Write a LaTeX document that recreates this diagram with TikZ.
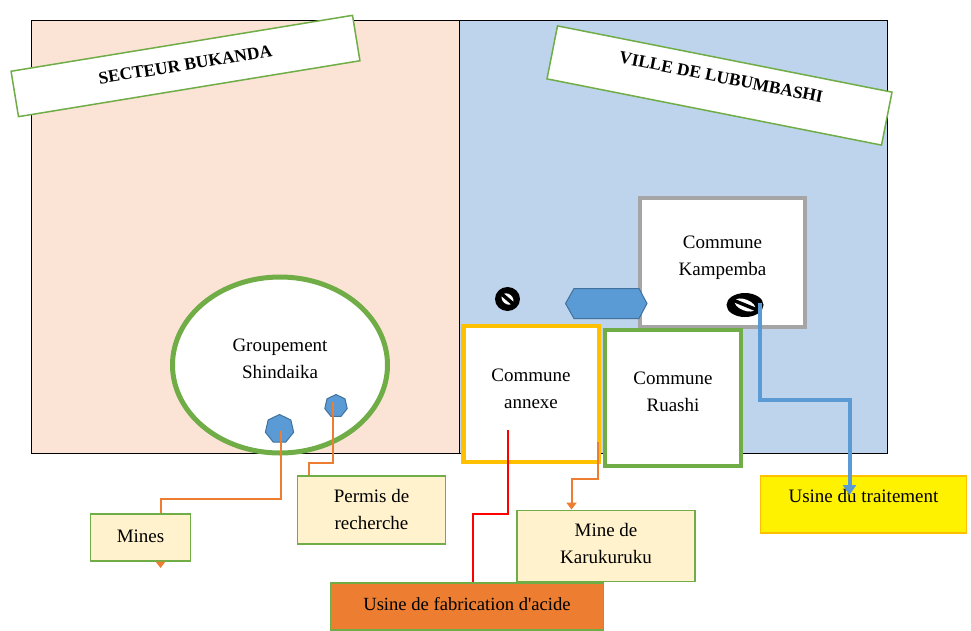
\documentclass[tikz,border=0pt]{standalone}
\usepackage{fontspec}
\setmainfont{Liberation Serif}
\usetikzlibrary{shapes.geometric,arrows.meta,calc}
\definecolor{salmon}{HTML}{FBE3D6}
\definecolor{skyb}{HTML}{BDD4EC}
\definecolor{grn}{HTML}{70AD47}
\definecolor{gry}{HTML}{A5A5A5}
\definecolor{yel}{HTML}{FFC000}
\definecolor{blu}{HTML}{5B9BD5}
\definecolor{bluedge}{HTML}{41719C}
\definecolor{org}{HTML}{ED7D31}
\definecolor{cream}{HTML}{FFF2CC}
\tikzset{
 zone/.style={draw=black,line width=1pt,minimum width=428pt,minimum height=433pt,anchor=north west},
 banner/.style={draw=grn,line width=1.5pt,fill=white,inner sep=0pt,font=\bfseries\fontsize{17.5}{20}\selectfont},
 commune/.style={fill=white,line width=4.5pt,align=center,inner sep=0pt,font=\fontsize{19}{27}\selectfont},
 tag/.style={draw=grn,line width=1.8pt,fill=cream,align=center,inner sep=0pt,font=\fontsize{19}{27}\selectfont},
 plant/.style={line width=1.6pt,inner sep=0pt,font=\fontsize{18.6}{22}\selectfont},
 site/.style={regular polygon,regular polygon sides=7,draw=bluedge,line width=1pt,fill=blu,inner sep=0pt},
 conn/.style={draw=org,line width=2pt},
 tipped/.style={-{Triangle[length=7pt,width=10pt]}},
 blackdisc/.style={ellipse,fill=black,inner sep=0pt},
 whitedisc/.style={ellipse,fill=white,inner sep=0pt},
}
\begin{document}
\begin{tikzpicture}[x=1pt,y=-1pt]
\useasboundingbox (0,0) rectangle (971,630);
\fill[white] (0,0) rectangle (971,630);
% zones
\node[zone,fill=salmon] (zl) at (31,20) {};
\node[zone,fill=skyb] (zr) at (459,20) {};
% banners
\node[banner,minimum width=346pt,minimum height=46pt,rotate=9.3,text depth=3pt] (bl) at (185.5,66) {SECTEUR BUKANDA};
\node[banner,minimum width=341pt,minimum height=54pt,rotate=-11.2,text depth=17pt] (br) at (719.5,85.5) {VILLE DE LUBUMBASHI};
% communes
\node[commune,draw=gry,minimum width=165pt,minimum height=129pt,text depth=14pt] (kamp) at (722.5,262.5) {Commune\\Kampemba};
\node[commune,draw=yel,minimum width=135.5pt,minimum height=136pt,text depth=10pt] (annexe) at (531,394) {Commune\\annexe};
\node[commune,draw=grn,minimum width=136pt,minimum height=136pt,text depth=12pt] (ruashi) at (673,398) {Commune\\Ruashi};
% groupement
\node[commune,ellipse,draw=grn,line width=5pt,minimum width=215pt,minimum height=176pt,text depth=12pt] (shin) at (280,365) {Groupement\\Shindaika};
% small shapes
\node[site,minimum size=29pt] (hepa) at (279.5,429) {};
\node[site,minimum size=23pt] (hepb) at (336,406) {};
\draw[draw=bluedge,line width=1pt,fill=blu] (565.5,303.5) -- (574,288.5) -- (639,288.5) -- (647,303.5) -- (639,318.5) -- (574,318.5) -- cycle;
\node[blackdisc,minimum width=25pt,minimum height=24pt] (noa) at (507.5,299) {};
\node[whitedisc,minimum width=13pt,minimum height=10pt,rotate=-40] (noai) at (noa.center) {};
\draw[black,line width=3.5pt] ($(noa.center)+(-7,-6)$) -- ($(noa.center)+(7,6)$);
\node[blackdisc,minimum width=37pt,minimum height=24pt] (nob) at (745,305) {};
\node[whitedisc,minimum width=22pt,minimum height=11pt,rotate=-22] (nobi) at (nob.center) {};
\draw[black,line width=3.5pt] ($(nob.center)+(-11,-4.5)$) -- ($(nob.center)+(11,4.5)$);
% connector coordinates
\coordinate (mb) at (280.5,499);
\coordinate (mc) at (160.5,499);
\coordinate (md) at (160.5,568);
\coordinate (pb) at (333,463);
\coordinate (pc) at (309,463);
\coordinate (ka) at (598,442);
\coordinate (kb) at (598,479);
\coordinate (kc) at (571.5,479);
\coordinate (ra) at (508,430);
\coordinate (rb) at (508,514);
\coordinate (rc) at (472.5,514);
\coordinate (ba) at (759.5,303);
\coordinate (bb) at (759.5,400);
\coordinate (bc) at (849.5,400);
\coordinate (bd) at (849.5,495);
% label boxes
\node[tag,minimum width=100pt,minimum height=47pt,text depth=3pt] (mines) at (140.5,537.5) {Mines};
\node[tag,minimum width=148pt,minimum height=68pt,text depth=2pt] (permis) at (371.5,510) {Permis de\\recherche};
\node[tag,minimum width=178pt,minimum height=71pt,text depth=6pt] (karu) at (606,546) {Mine de\\Karukuruku};
% connectors
\draw[conn] ($(hepa.center)+(1,2)$) -- (mb) -- (mc) -- (mc |- mines.north);
\fill[org] (155.5,561.5) -- (165.5,561.5) -- (md) -- cycle;
\draw[conn] ($(hepb.center)+(-3,-4)$) -- (pb) -- (pc) -- (pc |- permis.north);
\draw[conn,tipped] (ka) -- (kb) -- (kc) -- (karu.north -| kc);
\draw[draw=red,line width=2pt] (ra) -- (rb) -- (rc) -- (rc |- 0,583);
\node[plant,draw=grn,fill=org,minimum width=273pt,minimum height=47pt,text depth=5pt] (acide) at (467,606.5) {Usine de fabrication d\textquotesingle acide};
\node[plant,draw=yel,fill=yellow,minimum width=206pt,minimum height=57pt,text depth=17pt,font=\fontsize{19}{22}\selectfont] (trait) at (863.5,504.5) {Usine du traitement};
\draw[draw=blu,line width=4pt,-{Triangle[length=10pt,width=13pt]}] (ba) -- (bb) -- (bc) -- (bd);
\end{tikzpicture}
\end{document}
